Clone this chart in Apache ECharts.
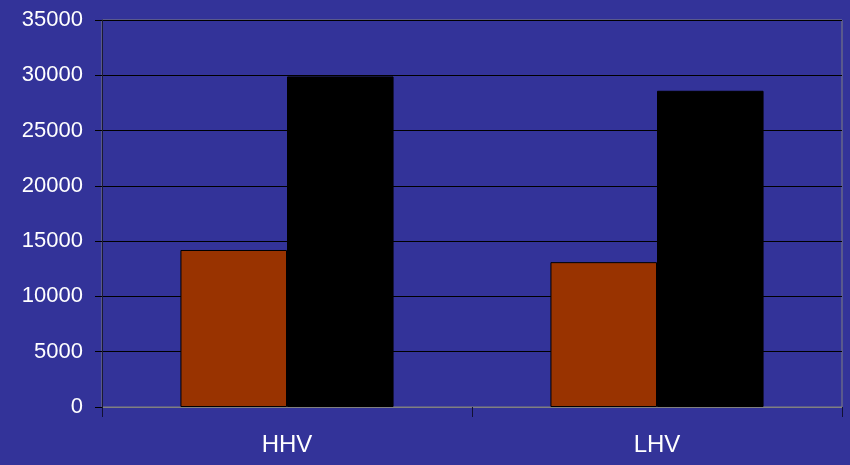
<!DOCTYPE html>
<html>
<head>
<meta charset="utf-8">
<script src="https://cdn.jsdelivr.net/npm/echarts@6/dist/echarts.min.js"></script>
<style>
  html, body { margin: 0; padding: 0; background: #333399; }
  #chart { width: 850px; height: 465px; }
</style>
</head>
<body>
<div id="chart"></div>
<script>
  // data
  var categories = ['HHV', 'LHV'];
  var brownValues = [14200, 13100];
  var blackValues = [29900, 28600];
  var yTicks = { min: 0, max: 35000, interval: 5000 };

  var labelFont = '"Liberation Sans Narrow", "Arial Narrow", "Liberation Sans", sans-serif';

  var myChart = echarts.init(document.getElementById('chart'));
  myChart.setOption({
    backgroundColor: '#333399',
    animation: false,
    grid: {
      left: 102, right: 8, top: 20, bottom: 58,
      show: true, borderColor: '#808080', borderWidth: 1,
      backgroundColor: 'transparent'
    },
    xAxis: {
      type: 'category',
      data: categories,
      boundaryGap: true,
      axisLine: { lineStyle: { color: '#808080', width: 1 } },
      axisTick: { show: true, length: 10, lineStyle: { color: '#111133' } },
      axisLabel: { color: '#ffffff', fontSize: 24, fontFamily: labelFont, margin: 26 }
    },
    yAxis: {
      type: 'value',
      min: yTicks.min, max: yTicks.max, interval: yTicks.interval,
      axisLine: { show: true, lineStyle: { color: '#1a1a33', width: 1 } },
      axisTick: { show: true, length: 7, lineStyle: { color: '#000000' } },
      axisLabel: {
        color: '#ffffff', fontSize: 22, fontFamily: labelFont, margin: 19,
        formatter: function (v) { return String(v); }
      },
      splitLine: { show: true, lineStyle: { color: '#000000', width: 1 } }
    },
    series: [
      {
        type: 'bar', data: brownValues,
        barWidth: '28.8%', barGap: '0%',
        itemStyle: { color: '#993300', borderColor: '#000000', borderWidth: 1 }
      },
      {
        type: 'bar', data: blackValues,
        barWidth: '28.8%',
        itemStyle: { color: '#000000', borderColor: '#000000', borderWidth: 1 }
      }
    ]
  });
</script>
</body>
</html>
